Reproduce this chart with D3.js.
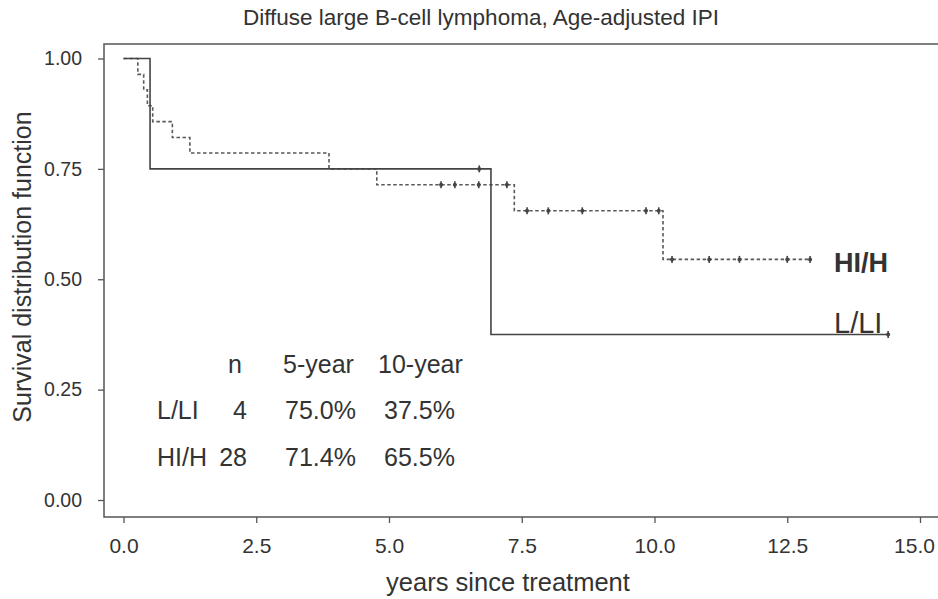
<!DOCTYPE html>
<html>
<head>
<meta charset="utf-8">
<script src="https://cdn.jsdelivr.net/npm/d3@7"></script>
<style>
  body { margin: 0; background: #fff; }
  svg text { font-family: "Liberation Sans", Arial, sans-serif; fill: #333; }
</style>
</head>
<body>
<svg id="chart" width="938" height="599"></svg>
<script>
// Kaplan-Meier steps: [years, survival]
const hiSteps = [[0, 1], [0.27, 0.964], [0.38, 0.929], [0.45, 0.893], [0.55, 0.857],
  [0.92, 0.821], [1.25, 0.786], [3.87, 0.75], [4.77, 0.714], [7.36, 0.655], [10.16, 0.545]];
const hiEnd = 12.93;
const hiCensor = [5.98, 6.24, 6.69, 7.22, 7.6, 8.0, 8.64, 9.84, 10.08, 10.33, 11.03, 11.6, 12.5, 12.93];

const llSteps = [[0, 1], [0.5, 0.75], [6.92, 0.375]];
const llEnd = 14.4;
const llCensor = [6.7, 14.4];

const xTicks = [0, 2.5, 5, 7.5, 10, 12.5, 15];
const yTicks = [0, 0.25, 0.5, 0.75, 1];

const tableHeader = ['n', '5-year', '10-year'];
const tableRows = [
  ['L/LI', '4', '75.0%', '37.5%'],
  ['HI/H', '28', '71.4%', '65.5%']
];

const svg = d3.select('#chart');

const x = d3.scaleLinear().domain([0, 15]).range([123.5, 920]);
const y = d3.scaleLinear().domain([0, 1]).range([500, 58.5]);

const FRAME = { left: 104, top: 44, bottom: 517, right: 945 };

// title
svg.append('text')
  .attr('x', 481).attr('y', 25)
  .attr('text-anchor', 'middle')
  .style('font-size', '22.5px')
  .text('Diffuse large B-cell lymphoma, Age-adjusted IPI');

// frame (right side runs off the picture)
svg.append('path')
  .attr('d', 'M' + FRAME.right + ',' + FRAME.top + 'H' + FRAME.left + 'V' + FRAME.bottom + 'H' + FRAME.right)
  .attr('fill', 'none')
  .attr('stroke', '#555')
  .attr('stroke-width', 1.5);

// axes
const yAxis = svg.append('g')
  .attr('transform', 'translate(' + FRAME.left + ',0)')
  .call(d3.axisLeft(y).tickValues(yTicks).tickFormat(d3.format('.2f')).tickSize(6).tickPadding(16));
const xAxis = svg.append('g')
  .attr('transform', 'translate(0,' + FRAME.bottom + ')')
  .call(d3.axisBottom(x).tickValues(xTicks).tickFormat(d3.format('.1f')).tickSize(6).tickPadding(11));

[yAxis, xAxis].forEach(a => {
  a.select('.domain').remove();
  a.selectAll('line').attr('stroke', '#555').attr('stroke-width', 1.3);
  a.selectAll('text').attr('fill', '#333').style('font-family', '"Liberation Sans", Arial, sans-serif');
});
yAxis.selectAll('text').style('font-size', '19.5px');
xAxis.selectAll('text').style('font-size', '21px').attr('dy', '0.9em');
// last label sits a little left of its tick in the original
xAxis.selectAll('text').filter(d => d === 15).attr('dx', -6);

// axis titles
svg.append('text')
  .attr('transform', 'translate(31,267) rotate(-90)')
  .attr('text-anchor', 'middle')
  .style('font-size', '25px')
  .text('Survival distribution function');
svg.append('text')
  .attr('x', 508).attr('y', 591)
  .attr('text-anchor', 'middle')
  .style('font-size', '25.5px')
  .text('years since treatment');

// survival curves
const line = d3.line()
  .x(d => x(d[0]))
  .y(d => y(d[1]))
  .curve(d3.curveStepAfter);

const withEnd = (steps, end) => steps.concat([[end, steps[steps.length - 1][1]]]);
const survAt = (steps, t) => {
  let s = steps[0][1];
  steps.forEach(d => { if (d[0] <= t) s = d[1]; });
  return s;
};

svg.append('path')
  .datum(withEnd(hiSteps, hiEnd))
  .attr('d', line)
  .attr('fill', 'none')
  .attr('stroke', '#5a5a5a')
  .attr('stroke-width', 1.6)
  .attr('stroke-dasharray', '3.5,2.5');

svg.append('path')
  .datum(withEnd(llSteps, llEnd))
  .attr('d', line)
  .attr('fill', 'none')
  .attr('stroke', '#444')
  .attr('stroke-width', 1.6);

// censor marks
const drawCensor = (times, steps, color) => {
  const g = svg.append('g');
  times.forEach(t => {
    const cx = x(t), cy = y(survAt(steps, t));
    g.append('line')
      .attr('x1', cx).attr('x2', cx)
      .attr('y1', cy - 3.5).attr('y2', cy + 3.5)
      .attr('stroke', color).attr('stroke-width', 1.6);
    g.append('circle')
      .attr('cx', cx).attr('cy', cy).attr('r', 2)
      .attr('fill', color);
  });
};
drawCensor(hiCensor, hiSteps, '#444');
drawCensor(llCensor, llSteps, '#444');

// curve labels
svg.append('text')
  .attr('x', 834).attr('y', 272)
  .style('font-size', '27px')
  .style('font-weight', 'bold')
  .text('HI/H');
svg.append('text')
  .attr('x', 834).attr('y', 333)
  .style('font-size', '29px')
  .text('L/LI');

// summary table
const colX = [157, 247, 285, 384];
const colAnchor = ['start', 'end', 'start', 'start'];
const headX = [235, 283, 378];
const headAnchor = ['middle', 'start', 'start'];
const tableFont = '25px';

tableHeader.forEach((h, i) => {
  svg.append('text')
    .attr('x', headX[i])
    .attr('y', 373)
    .attr('text-anchor', headAnchor[i])
    .style('font-size', tableFont)
    .text(h);
});
tableRows.forEach((row, r) => {
  row.forEach((cell, i) => {
    svg.append('text')
      .attr('x', colX[i])
      .attr('y', 419 + r * 47)
      .attr('text-anchor', colAnchor[i])
      .style('font-size', tableFont)
      .text(cell);
  });
});
</script>
</body>
</html>
